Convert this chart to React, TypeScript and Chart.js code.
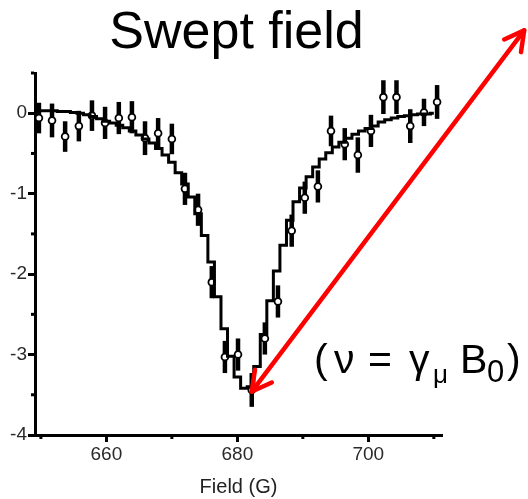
import React, { useEffect, useRef } from "react";
import { Chart, registerables } from "chart.js";

Chart.register(...registerables);

// ---- data ----
const FIELD = [
  649.7, 651.7, 653.7, 655.8, 657.8, 659.8, 661.9, 663.9, 665.9, 667.9, 670.0,
  672.0, 674.0, 676.1, 678.1, 680.1, 682.2, 684.2, 686.2, 688.3, 690.3, 692.3,
  694.3, 696.4, 698.4, 700.4, 702.3, 704.3, 706.4, 708.5, 710.5,
];
const SIGNAL = [
  -0.06, -0.09, -0.29, -0.16, -0.03, -0.12, -0.06, -0.05, -0.31, -0.25, -0.32,
  -0.94, -1.2, -2.1, -3.03, -3.0, -3.44, -2.8, -2.34, -1.46, -1.05, -0.91,
  -0.22, -0.385, -0.52, -0.22, 0.2, 0.2, -0.16, 0.01, 0.14,
];
const ERR = [
  0.19, 0.21, 0.19, 0.19, 0.19, 0.2, 0.2, 0.2, 0.21, 0.19, 0.19,
  0.2, 0.2, 0.2, 0.2, 0.2, 0.21, 0.2, 0.2, 0.2, 0.2, 0.2,
  0.19, 0.2, 0.22, 0.2, 0.21, 0.21, 0.21, 0.17, 0.21,
];
const FIT_FIELD = [
  649, 650, 651, 652, 653, 654, 655, 656, 657, 658, 659, 660, 661, 662, 663,
  664, 665, 666, 667, 668, 669, 670, 671, 672, 673, 674, 675, 676, 677, 678,
  679, 680, 681, 682, 683, 684, 685, 686, 687, 688, 689, 690, 691, 692, 693,
  694, 695, 696, 697, 698, 699, 700, 701, 702, 703, 704, 705, 706, 707, 708,
  709, 710,
];
const FIT_SIGNAL = [
  0.04, 0.03, 0.03, 0.03, 0.02, 0.02, 0.01, 0.0, -0.02, -0.04, -0.07, -0.1,
  -0.12, -0.15, -0.18, -0.22, -0.27, -0.32, -0.37, -0.44, -0.52, -0.61, -0.74,
  -0.88, -1.04, -1.25, -1.52, -1.85, -2.28, -2.68, -3.02, -3.28, -3.42, -3.4,
  -3.15, -2.75, -2.33, -1.96, -1.64, -1.33, -1.1, -0.93, -0.79, -0.67, -0.57,
  -0.49, -0.42, -0.36, -0.31, -0.26, -0.22, -0.19, -0.16, -0.11, -0.08, -0.06,
  -0.04, -0.03, -0.02, -0.01, -0.01, 0.0,
];
const X_MAJOR = [660, 680, 700];
const X_MINOR = [650, 670, 690, 710];
const Y_MAJOR = [-4, -3, -2, -1, 0];
const Y_MINOR = [-3.5, -2.5, -1.5, -0.5, 0.5];
const TITLE = "Swept field";
const X_TITLE = "Field (G)";
const ARROW_FROM = { x: 682.2, y: -3.46 };
const ARROW_TO = { x: 723.8, y: 1.03 };

const FONT = '"Liberation Sans", Arial, sans-serif';

function drawHead(ctx: CanvasRenderingContext2D, tx: number, ty: number, fx: number, fy: number) {
  const ang = Math.atan2(fy - ty, fx - tx);
  const len = 22;
  const spread = 0.5;
  ctx.beginPath();
  ctx.moveTo(tx + len * Math.cos(ang + spread), ty + len * Math.sin(ang + spread));
  ctx.lineTo(tx, ty);
  ctx.lineTo(tx + len * Math.cos(ang - spread), ty + len * Math.sin(ang - spread));
  ctx.stroke();
}

const decorPlugin = {
  id: "decor",
  beforeDatasetsDraw(chart: any) {
    const { ctx, scales } = chart;
    const x = scales.x;
    const y = scales.y;
    ctx.save();
    ctx.strokeStyle = "#000";
    ctx.lineWidth = 4.5;
    FIELD.forEach((f, i) => {
      const px = x.getPixelForValue(f);
      ctx.beginPath();
      ctx.moveTo(px, y.getPixelForValue(SIGNAL[i] + ERR[i]));
      ctx.lineTo(px, y.getPixelForValue(SIGNAL[i] - ERR[i]));
      ctx.stroke();
    });
    ctx.restore();
  },
  afterDraw(chart: any) {
    const { ctx, scales, chartArea } = chart;
    const x = scales.x;
    const y = scales.y;
    ctx.save();
    // minor ticks
    ctx.fillStyle = "#000";
    X_MINOR.forEach((v) => {
      const px = x.getPixelForValue(v);
      ctx.fillRect(px - 1.5, chartArea.bottom + 1, 3, 3);
    });
    Y_MINOR.forEach((v) => {
      const py = y.getPixelForValue(v);
      ctx.fillRect(chartArea.left - 4, py - 1.5, 3, 3);
    });
    // title
    ctx.fillStyle = "#000";
    ctx.font = `52px ${FONT}`;
    ctx.textAlign = "center";
    ctx.textBaseline = "alphabetic";
    ctx.fillText(TITLE, 236.5, 48);
    // arrow
    const fx = x.getPixelForValue(ARROW_FROM.x);
    const fy = y.getPixelForValue(ARROW_FROM.y);
    const tx = x.getPixelForValue(ARROW_TO.x);
    const ty = y.getPixelForValue(ARROW_TO.y);
    ctx.strokeStyle = "#ff0000";
    ctx.lineWidth = 4.5;
    ctx.lineCap = "round";
    ctx.lineJoin = "round";
    ctx.beginPath();
    ctx.moveTo(fx, fy);
    ctx.lineTo(tx, ty);
    ctx.stroke();
    drawHead(ctx, tx, ty, fx, fy);
    drawHead(ctx, fx, fy, tx, ty);
    // formula annotation
    ctx.fillStyle = "#000";
    ctx.textAlign = "left";
    const parts: { t: string; x: number; y: number; s: number }[] = [
      { t: "(", x: 314, y: 373, s: 41 },
      { t: "ν", x: 334, y: 373, s: 41 },
      { t: "=", x: 368, y: 373, s: 41 },
      { t: "γ", x: 409, y: 373, s: 41 },
      { t: "μ", x: 433, y: 383, s: 26 },
      { t: "B", x: 460, y: 373, s: 41 },
      { t: "0", x: 487, y: 382, s: 31 },
      { t: ")", x: 507, y: 373, s: 41 },
    ];
    parts.forEach((p) => {
      ctx.font = `${p.s}px ${FONT}`;
      ctx.fillText(p.t, p.x, p.y);
    });
    ctx.restore();
  },
};

export default function App() {
  const ref = useRef<HTMLCanvasElement | null>(null);
  useEffect(() => {
    document.body.style.margin = "0";
    if (!ref.current) return;
    const chart = new Chart(ref.current, {
      type: "scatter",
      data: {
        datasets: [
          {
            type: "line",
            data: FIT_FIELD.map((f, i) => ({ x: f, y: FIT_SIGNAL[i] })),
            borderColor: "#000",
            borderWidth: 3,
            pointRadius: 0,
            stepped: "middle",
            fill: false,
            order: 1,
          } as any,
          {
            type: "scatter",
            data: FIELD.map((f, i) => ({ x: f, y: SIGNAL[i] })),
            pointRadius: 3.4,
            pointBorderWidth: 1.8,
            pointBackgroundColor: "#fff",
            pointBorderColor: "#000",
            order: 2,
          } as any,
        ],
      },
      options: {
        responsive: false,
        animation: false,
        devicePixelRatio: 1,
        layout: { padding: { top: 73, right: 86, left: 0, bottom: 0 } },
        plugins: {
          legend: { display: false },
          tooltip: { enabled: false },
          title: { display: false },
        },
        scales: {
          x: {
            type: "linear",
            min: 649.1,
            max: 711.25,
            afterBuildTicks: (s: any) => {
              s.ticks = X_MAJOR.map((v) => ({ value: v }));
            },
            afterFit: (s: any) => {
              s.height = 64;
            },
            grid: {
              drawOnChartArea: false,
              drawTicks: true,
              tickLength: 7,
              tickWidth: 3,
              tickColor: "#000",
            },
            border: { display: true, color: "#000", width: 3 },
            ticks: {
              color: "#2a2a2a",
              font: { family: FONT, size: 19 },
              padding: 1,
              maxRotation: 0,
              autoSkip: false,
              callback: (v: any) => String(v),
            },
            title: {
              display: true,
              text: X_TITLE,
              color: "#222",
              font: { family: FONT, size: 20 },
              padding: { top: 0, bottom: 0 },
            },
          },
          y: {
            type: "linear",
            min: -4,
            max: 0.5,
            afterBuildTicks: (s: any) => {
              s.ticks = Y_MAJOR.map((v) => ({ value: v }));
            },
            afterFit: (s: any) => {
              s.width = 35;
            },
            grid: {
              drawOnChartArea: false,
              drawTicks: true,
              tickLength: 7,
              tickWidth: 3,
              tickColor: "#000",
            },
            border: { display: true, color: "#000", width: 3 },
            ticks: {
              color: "#2a2a2a",
              font: { family: FONT, size: 19 },
              padding: 1,
              autoSkip: false,
              callback: (v: any) => String(v),
            },
          },
        },
      } as any,
      plugins: [decorPlugin],
    });
    return () => chart.destroy();
  }, []);
  return (
    <div style={{ width: 528, height: 499, background: "#fff" }}>
      <canvas ref={ref} width={528} height={499} style={{ display: "block" }} />
    </div>
  );
}
